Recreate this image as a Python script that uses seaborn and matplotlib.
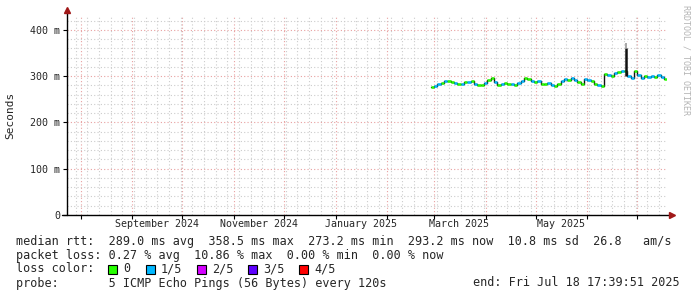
import matplotlib
matplotlib.use('Agg')
import matplotlib.pyplot as plt
import matplotlib.dates as mdates
from matplotlib.ticker import MultipleLocator, FixedLocator, NullFormatter
from matplotlib.patches import Rectangle
import pandas as pd
import seaborn as sns

# time window of the graph (360 days ending at "end")
end_time = pd.Timestamp('2025-07-18 17:39:51')
start_time = end_time - pd.Timedelta(days=360)

# median rtt in ms, one value every 2 days starting at first_day
first_day = '2025-02-27'
median_ms = [277, 279, 283, 286, 289, 290, 288, 286, 282, 284,
             288, 287, 289, 284, 281, 280, 285, 291, 296, 288,
             281, 283, 286, 282, 284, 280, 285, 290, 296, 294,
             290, 287, 289, 284, 282, 285, 281, 278, 283, 290,
             294, 291, 295, 292, 288, 283, 293, 291, 290, 284,
             281, 278, 305, 303, 300, 306, 309, 311, 312, 300,
             296, 310, 302, 296, 300, 298, 301, 299, 302, 297,
             293]
# lost pings out of 5 for each value
loss_count = [0, 1, 1, 0, 1, 0, 0, 1, 0, 1,
              0, 1, 0, 1, 0, 0, 1, 0, 0, 1,
              0, 1, 0, 0, 1, 0, 1, 1, 0, 0,
              1, 0, 1, 0, 0, 1, 1, 0, 0, 1,
              1, 0, 1, 1, 0, 0, 1, 1, 0, 0,
              1, 0, 0, 1, 0, 1, 0, 1, 0, 1,
              1, 0, 1, 1, 0, 1, 1, 0, 1, 1,
              0]

# the one big outlier
spike_day = ['2025-06-24']
spike_lo_ms = [300]
spike_hi_ms = [360]
spike_top_ms = [372]

month_labels = ['2024-09-01', '2024-11-01', '2025-01-01', '2025-03-01', '2025-05-01']
y_ticks = [0, 100, 200, 300, 400]
y_tick_labels = ['0', '100 m', '200 m', '300 m', '400 m']
loss_labels = ['0', '1/5', '2/5', '3/5', '4/5']
loss_colors = ['#26ff00', '#00b8ff', '#d400ff', '#5e00ff', '#ff0000']

legend_lines = [
    'median rtt:  289.0 ms avg  358.5 ms max  273.2 ms min  293.2 ms now  10.8 ms sd  26.8   am/s',
    'packet loss: 0.27 % avg  10.86 % max  0.00 % min  0.00 % now',
]
probe_text = 'probe:       5 ICMP Echo Pings (56 Bytes) every 120s'
end_text = 'end: Fri Jul 18 17:39:51 2025'

times = pd.date_range(first_day, periods=len(median_ms), freq='2D')
df = pd.DataFrame({'time': times, 'rtt': median_ms, 'loss': loss_count})
df['next'] = list(times[1:]) + [end_time]

sns.set_style('white')
plt.rcParams['font.family'] = ['DejaVu Sans Mono']

W, H = 697, 297
fig = plt.figure(figsize=(W / 100, H / 100), dpi=100)
ax = fig.add_axes([67 / W, (H - 215) / H, 600 / W, 200 / H])

# grid
ax.xaxis.set_major_locator(mdates.MonthLocator())
ax.xaxis.set_minor_locator(mdates.WeekdayLocator(byweekday=mdates.MO))
ax.xaxis.set_major_formatter(NullFormatter())
ax.yaxis.set_major_locator(FixedLocator(y_ticks))
ax.yaxis.set_minor_locator(MultipleLocator(20))
ax.set_yticklabels(y_tick_labels)
ax.grid(which='minor', color='#cccccc', linestyle=(0, (1, 2)), linewidth=0.8)
ax.grid(which='major', color='#e8a0a0', linestyle=(0, (1, 2)), linewidth=0.8)
ax.set_axisbelow(True)

ax.set_xlim(start_time, end_time)
ax.set_ylim(0, 432)

# smoke / step connectors
sns.lineplot(data=df, x='time', y='rtt', drawstyle='steps-post', color='#111111',
             linewidth=1.0, ax=ax, legend=False)
# median coloured by loss
for lc in sorted(df['loss'].unique()):
    part = df[df['loss'] == lc]
    ax.hlines(part['rtt'], part['time'], part['next'], colors=loss_colors[int(lc)],
              linewidth=1.8, zorder=3)

for d, lo, hi, top in zip(spike_day, spike_lo_ms, spike_hi_ms, spike_top_ms):
    d = pd.Timestamp(d)
    ax.vlines(d, hi, top, colors='#9a9a9a', linewidth=1.2, zorder=4)
    ax.vlines(d, lo, hi, colors='#111111', linewidth=1.8, zorder=4)

for side in ['top', 'right', 'left', 'bottom']:
    ax.spines[side].set_visible(False)
ax.plot([-0.008, 1.006], [0, 0], color='black', lw=1, transform=ax.transAxes, clip_on=False)
ax.plot([0, 0], [0, 1.02], color='black', lw=1, transform=ax.transAxes, clip_on=False)
ax.plot([1.008], [0], marker='>', color='#a01818', markersize=4, transform=ax.transAxes, clip_on=False)
ax.plot([0], [1.025], marker='^', color='#a01818', markersize=4, transform=ax.transAxes, clip_on=False)

ax.tick_params(axis='both', which='major', direction='out', length=3, width=0.8, color='black',
               labelsize=7.2, pad=2, left=True, bottom=True)
ax.tick_params(axis='both', which='minor', length=0)
ax.set_xlabel('')
ax.set_ylabel('Seconds', fontsize=8)
ax.yaxis.set_label_coords(-52 / 600, 0.5)

for m in month_labels:
    mid = pd.Timestamp(m) + pd.Timedelta(days=15)
    ax.text(mid, -0.045, mid.strftime('%B %Y'), transform=ax.get_xaxis_transform(),
            ha='center', va='center', fontsize=7.2)

def fy(py):
    return 1 - py / H

fs = 8.45
fig.text(16 / W, fy(241), legend_lines[0], fontsize=fs, va='center', ha='left')
fig.text(16 / W, fy(255), legend_lines[1], fontsize=fs, va='center', ha='left')
fig.text(16 / W, fy(269), 'loss color:', fontsize=fs, va='center', ha='left')
sq_x = [108, 146, 197, 248, 299]
for x, lab, col in zip(sq_x, loss_labels, loss_colors):
    fig.patches.append(Rectangle((x / W, fy(273.5)), 9 / W, 9 / H, transform=fig.transFigure,
                                 facecolor=col, edgecolor='black', linewidth=0.8))
    fig.text((x + 15) / W, fy(269), lab, fontsize=fs, va='center', ha='left')
fig.text(16 / W, fy(283), probe_text, fontsize=fs, va='center', ha='left')
fig.text(680 / W, fy(283), end_text, fontsize=fs, va='center', ha='right')

fig.text(686 / W, fy(60), 'RRDTOOL / TOBI OETIKER', rotation=270, fontsize=6,
         color='#b4b4b4', ha='center', va='center')

fig.savefig('out.png', dpi=100)
